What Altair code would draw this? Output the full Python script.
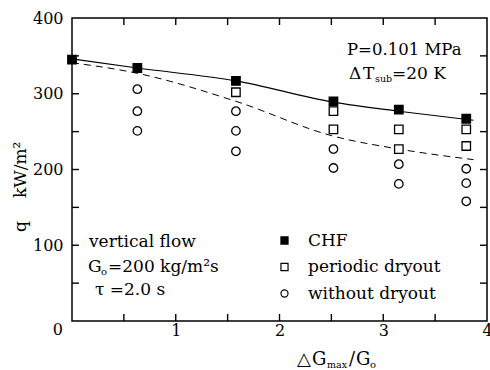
import altair as alt
import pandas as pd

# ---- data ----
chf_x = [0.0, 0.63, 1.58, 2.52, 3.15, 3.80]
chf_q = [345, 334, 317, 290, 279, 267]

per_x = [1.58, 2.52, 2.52, 3.15, 3.15, 3.80, 3.80]
per_q = [302, 277, 253, 253, 227, 253, 231]

wo_x = [0.63, 0.63, 0.63, 1.58, 1.58, 1.58, 2.52, 2.52, 3.15, 3.15, 3.80, 3.80, 3.80]
wo_q = [306, 277, 251, 277, 251, 224, 227, 202, 207, 181, 201, 182, 158]

solid_x = [0.0, 0.63, 1.58, 2.52, 3.15, 3.87]
solid_q = [346, 334, 317, 289, 277, 265]

dash_x = [0.0, 0.63, 1.58, 2.52, 3.15, 3.87]
dash_q = [341, 327, 290, 244, 227, 213]

x_labels = [1, 2, 3, 4]
y_labels = [100, 200, 300, 400]
x_minor = [0.5, 1.0, 1.5, 2.0, 2.5, 3.0, 3.5]
y_minor = [50, 100, 150, 200, 250, 300, 350]

series = ["CHF", "periodic dryout", "without dryout"]

# ---- tables ----
pts = pd.concat([
    pd.DataFrame({"x": chf_x, "q": chf_q, "type": series[0]}),
    pd.DataFrame({"x": per_x, "q": per_q, "type": series[1]}),
    pd.DataFrame({"x": wo_x, "q": wo_q, "type": series[2]}),
])
solid = pd.DataFrame({"x": solid_x, "q": solid_q})
dash = pd.DataFrame({"x": dash_x, "q": dash_q})

FONT = "DejaVu Serif"
W, H = 415, 303
L, T = 72, 18  # plot origin in page pixels
xs = alt.Scale(domain=[0, 4], nice=False, zero=False)
ys = alt.Scale(domain=[0, 400], nice=False, zero=False)

xaxis = alt.Axis(values=x_labels, format="d", tickSize=0, domain=False, grid=False, title=None,
                 labelFont=FONT, labelFontSize=16, labelColor="black",
                 labelBaseline="alphabetic", labelPadding=14, labelFlush=False)
yaxis = alt.Axis(values=y_labels, format="d", tickSize=0, domain=False, grid=False, title=None,
                 labelFont=FONT, labelFontSize=16, labelColor="black",
                 labelBaseline="middle", labelPadding=9)

line_solid = alt.Chart(solid).mark_line(color="black", strokeWidth=1.1, interpolate="monotone").encode(
    x=alt.X("x:Q", scale=xs, axis=xaxis),
    y=alt.Y("q:Q", scale=ys, axis=yaxis),
)
line_dash = alt.Chart(dash).mark_line(color="black", strokeWidth=1.0, strokeDash=[7, 5],
                                      interpolate="monotone").encode(
    x=alt.X("x:Q", scale=xs),
    y=alt.Y("q:Q", scale=ys),
)

leg = alt.Legend(title=None)
points = alt.Chart(pts).mark_point(filled=False, strokeWidth=1.3, size=72, opacity=1).encode(
    x=alt.X("x:Q", scale=xs),
    y=alt.Y("q:Q", scale=ys),
    shape=alt.Shape("type:N", scale=alt.Scale(domain=series, range=["square", "square", "circle"]),
                    legend=leg),
    fill=alt.Fill("type:N", scale=alt.Scale(domain=series, range=["black", "white", "white"]),
                  legend=leg),
    stroke=alt.Stroke("type:N", scale=alt.Scale(domain=series, range=["black", "black", "black"]),
                      legend=leg),
)

xt = pd.DataFrame({"x": x_minor})
yt = pd.DataFrame({"q": y_minor})
tick_b = alt.Chart(xt).mark_rule(color="black", strokeWidth=1.4).encode(
    x=alt.X("x:Q", scale=xs), y=alt.value(H), y2=alt.value(H - 7))
tick_t = alt.Chart(xt).mark_rule(color="black", strokeWidth=1.4).encode(
    x=alt.X("x:Q", scale=xs), y=alt.value(0), y2=alt.value(7))
tick_l = alt.Chart(yt).mark_rule(color="black", strokeWidth=1.4).encode(
    y=alt.Y("q:Q", scale=ys), x=alt.value(0), x2=alt.value(7))
tick_r = alt.Chart(yt).mark_rule(color="black", strokeWidth=1.4).encode(
    y=alt.Y("q:Q", scale=ys), x=alt.value(W), x2=alt.value(W - 7))


def txt(s, px, py, size=17, angle=0, align="left"):
    """px, py: page pixel position of the text anchor (baseline)."""
    kw = dict(font=FONT, fontSize=size, color="black", align=align, baseline="alphabetic")
    if angle:
        kw["angle"] = angle
    return alt.Chart(pd.DataFrame({"t": [s]})).mark_text(**kw).encode(
        text="t:N", x=alt.value(px - L), y=alt.value(py - T))


texts = [
    txt("P=0.101 MPa", 347, 54.5, size=16.5),
    txt("Δ", 349, 78.5),
    txt("T", 363, 78.5),
    txt("sub", 375, 82, size=9.5),
    txt("=20 K", 392, 78.5),
    txt("vertical flow", 89, 247),
    txt("G", 88, 271.5),
    txt("o", 101, 274.5, size=10),
    txt("=200 kg/m²s", 108, 271.5),
    txt("τ =2.0 s", 95, 295),
    txt("△", 297, 364.5, size=18),
    txt("G", 312, 364.5, size=18),
    txt("max", 327, 368, size=9.5),
    txt("/", 349, 364.5, size=18),
    txt("G", 356, 364.5, size=18),
    txt("o", 370, 368, size=10),
    txt("q", 26, 232, angle=270),
    txt("kW/m²", 26, 198, angle=270),
    txt("0", 63, 335, size=16, align="right"),
]

chart = alt.layer(line_solid, line_dash, tick_b, tick_t, tick_l, tick_r, points, *texts).properties(
    width=W, height=H,
    autosize=alt.AutoSizeParams(type="none"),
    padding={"left": L, "top": T, "right": 3, "bottom": 49},
).configure_view(
    stroke="black", strokeWidth=1.5
).configure_legend(
    orient="none", legendX=204, legendY=214, padding=0,
    labelFont=FONT, labelFontSize=17, labelColor="black", labelOffset=15,
    symbolSize=50, symbolStrokeWidth=1.2, rowPadding=8.5, labelLimit=300,
)

chart.save("out.html", embed_options={"renderer": "svg", "actions": False})
